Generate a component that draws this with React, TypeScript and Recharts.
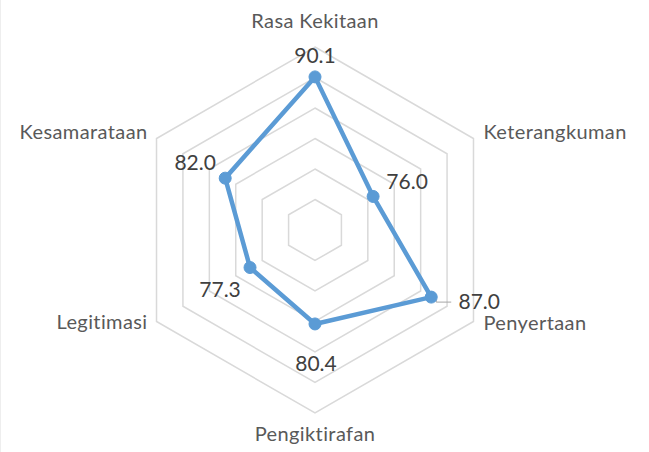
import React from "react";
import { RadarChart, Radar, PolarGrid, PolarAngleAxis, PolarRadiusAxis } from "recharts";

const categories = ["Rasa Kekitaan", "Keterangkuman", "Penyertaan", "Pengiktirafan", "Legitimasi", "Kesamarataan"];
const scores = [90.1, 76.0, 87.0, 80.4, 77.3, 82.0];
const radiusDomain = [65, 95];

const data = categories.map((c, i) => ({ name: c, value: scores[i] }));

// label placement styles (relative to tick / point)
const axisLabelStyle = [
  { anchor: "middle", dx: 0, dy: -11 },
  { anchor: "start", dx: 3, dy: 4.5 },
  { anchor: "start", dx: 3, dy: 4 },
  { anchor: "middle", dx: 0, dy: 20 },
  { anchor: "end", dx: -2, dy: 3 },
  { anchor: "end", dx: -2, dy: 4 },
];
const valueLabelStyle = [
  { dx: 0, dy: -14 },
  { dx: 34, dy: -7 },
  { dx: 48, dy: 12 },
  { dx: 1, dy: 47 },
  { dx: -30, dy: 29 },
  { dx: -30, dy: -8 },
];

const FONT = "Lato, 'Open Sans', sans-serif";

const AxisTick = (props: any) => {
  const { x, y, payload, index } = props;
  const s = axisLabelStyle[index] || { anchor: "middle", dx: 0, dy: 0 };
  return (
    <text x={x + s.dx} y={y + s.dy} textAnchor={s.anchor} fill="#595959" fontSize={20} fontFamily={FONT} letterSpacing={0.4}>
      {payload.value}
    </text>
  );
};

const Dot = (props: any) => {
  const { cx, cy, index, payload } = props;
  const s = valueLabelStyle[index] || { dx: 0, dy: 0 };
  const v = payload && payload.value !== undefined ? payload.value : scores[index];
  return (
    <g key={`dot-${index}`}>
      {index === 2 && (
        <polyline points={`${cx + 5},${cy + 2} ${cx + 5},${cy + 5} ${cx + 20},${cy + 5}`} fill="none" stroke="#a6a6a6" strokeWidth={1} />
      )}
      <circle cx={cx} cy={cy} r={6} fill="#5b9bd5" stroke="#5b9bd5" strokeWidth={1} />
      <text x={cx + s.dx} y={cy + s.dy} textAnchor="middle" fill="#404040" fontSize={21} fontFamily={FONT}>
        {Number(v).toFixed(1)}
      </text>
    </g>
  );
};

export default function App() {
  return (
    <div style={{ position: "absolute", left: 0, top: 0, width: 649, height: 452, background: "#fff", borderLeft: "1px solid #eeeeee", boxSizing: "border-box" }}>
      <RadarChart width={648} height={452} data={data} cx={314} cy={230} outerRadius={183} startAngle={90} endAngle={-270} margin={{ top: 0, right: 0, bottom: 0, left: 0 }}>
        <PolarGrid gridType="polygon" radialLines={false} stroke="#d9d9d9" strokeWidth={1.5} />
        <PolarAngleAxis dataKey="name" tick={<AxisTick />} tickLine={false} axisLine={false} />
        <PolarRadiusAxis domain={radiusDomain} tickCount={7} tick={false} axisLine={false} />
        <Radar dataKey="value" stroke="#5b9bd5" strokeWidth={4.5} fill="none" fillOpacity={0} dot={<Dot />} isAnimationActive={false} />
      </RadarChart>
    </div>
  );
}
